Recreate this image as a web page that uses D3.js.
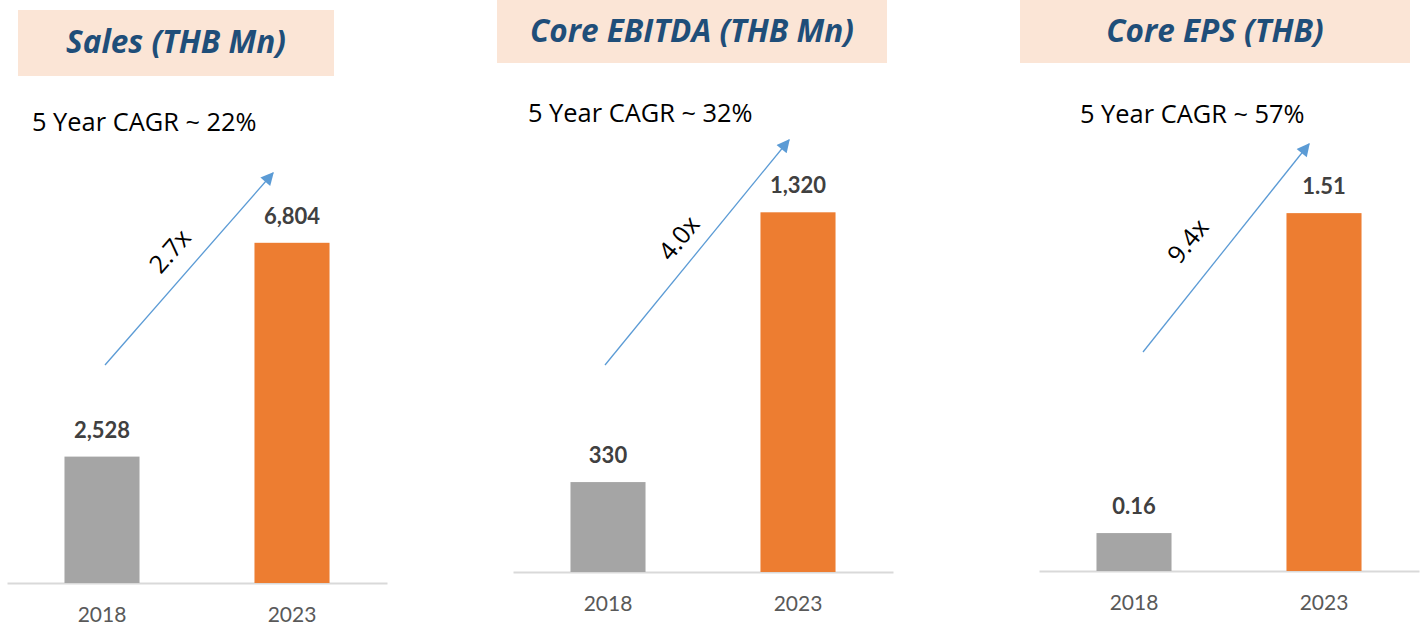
<!DOCTYPE html>
<html>
<head>
<meta charset="utf-8">
<script src="https://cdn.jsdelivr.net/npm/d3@7"></script>
<style>
    html, body { margin: 0; padding: 0; background: #fff; }
    svg { display: block; }
    text { font-family: Lato, "Open Sans", sans-serif; }
</style>
</head>
<body>
<svg id="chart" width="1421" height="625"></svg>
<script>
// data
var years = ['2018', '2023'];
var titles = ['Sales (THB Mn)', 'Core EBITDA (THB Mn)', 'Core EPS (THB)'];
var cagrLabels = ['5 Year CAGR ~ 22%', '5 Year CAGR ~ 32%', '5 Year CAGR ~ 57%'];
var multiples = ['2.7x', '4.0x', '9.4x'];
var salesValues = [2528, 6804];
var ebitdaValues = [330, 1320];
var epsValues = [0.16, 1.51];
var valueFormats = [',', ',', '.2f'];

// layout for the three panels
var panels = [
    { values: salesValues, box: [18, 10, 316, 66], titleY: 53, cagrX: 32, cagrY: 131,
      xRange: [7, 387], baseline: 583, yMax: 8000, yTop: 183,
      arrow: [[105, 365], [273, 173]], multPos: [170, 251], multAngle: -49 },
    { values: ebitdaValues, box: [497, 0, 390, 63], titleY: 42, cagrX: 528, cagrY: 122,
      xRange: [513, 893], baseline: 572, yMax: 1600, yTop: 136,
      arrow: [[605, 365], [789, 140]], multPos: [679, 238], multAngle: -51 },
    { values: epsValues, box: [1020, 0, 390, 63], titleY: 42, cagrX: 1080, cagrY: 123,
      xRange: [1039, 1419], baseline: 571, yMax: 2, yTop: 97,
      arrow: [[1143, 352], [1309, 144]], multPos: [1188, 241], multAngle: -51 }
];

var barColors = ['#A5A5A5', '#ED7D31'];
var svg = d3.select('#chart');

svg.append('defs').append('marker')
    .attr('id', 'arrowHead')
    .attr('viewBox', '0 0 10 10')
    .attr('refX', 9)
    .attr('refY', 5)
    .attr('markerUnits', 'userSpaceOnUse')
    .attr('markerWidth', 15)
    .attr('markerHeight', 13)
    .attr('orient', 'auto')
    .append('path')
    .attr('d', 'M0,0 L10,5 L0,10 Z')
    .attr('fill', '#5B9BD5');

panels.forEach(function (p, k) {
    var g = svg.append('g').attr('class', 'panel panel' + k);

    var x = d3.scaleBand().domain(years).range(p.xRange);
    var y = d3.scaleLinear().domain([0, p.yMax]).range([p.baseline, p.yTop]);
    var barWidth = x.bandwidth() * 0.395;
    var fmt = d3.format(valueFormats[k]);

    // title box
    g.append('rect')
        .attr('x', p.box[0])
        .attr('y', p.box[1])
        .attr('width', p.box[2])
        .attr('height', p.box[3])
        .style('fill', '#FBE5D6');

    g.append('text')
        .attr('x', p.box[0] + p.box[2] / 2)
        .attr('y', p.titleY)
        .attr('text-anchor', 'middle')
        .style('font-family', '"Open Sans", sans-serif')
        .style('font-size', '31.5px')
        .style('font-weight', 'bold')
        .style('font-style', 'italic')
        .style('fill', '#1F4E79')
        .text(titles[k]);

    g.append('text')
        .attr('x', p.cagrX)
        .attr('y', p.cagrY)
        .style('font-family', '"Open Sans", sans-serif')
        .style('font-size', '25.4px')
        .style('fill', '#000')
        .text(cagrLabels[k]);

    // axis
    var axis = g.append('g')
        .attr('transform', 'translate(0,' + p.baseline + ')')
        .call(d3.axisBottom(x).tickSize(0).tickSizeOuter(0));
    axis.select('.domain').style('stroke', '#D9D9D9').style('stroke-width', 2);
    axis.selectAll('.tick text')
        .attr('y', 39)
        .attr('dy', 0)
        .style('font-family', 'Lato, "Open Sans", sans-serif')
        .style('font-size', '21px')
        .style('fill', '#595959');

    // bars
    var bars = g.selectAll('.bChart_Bar')
        .data(p.values)
        .enter();

    bars.append('rect')
        .attr('class', 'bChart_Bar')
        .attr('x', function (d, i) {
            return x(years[i]) + (x.bandwidth() - barWidth) / 2;
        })
        .attr('y', function (d) { return y(d); })
        .attr('width', barWidth)
        .attr('height', function (d) { return p.baseline - y(d); })
        .style('fill', function (d, i) { return barColors[i]; });

    bars.append('text')
        .attr('x', function (d, i) { return x(years[i]) + x.bandwidth() / 2; })
        .attr('y', function (d) { return y(d) - 19; })
        .attr('text-anchor', 'middle')
        .style('font-size', '22px')
        .style('font-weight', 'bold')
        .style('fill', '#404040')
        .text(function (d) { return fmt(d); });

    // growth arrow
    g.append('line')
        .attr('x1', p.arrow[0][0])
        .attr('y1', p.arrow[0][1])
        .attr('x2', p.arrow[1][0])
        .attr('y2', p.arrow[1][1])
        .style('stroke', '#5B9BD5')
        .style('stroke-width', 1.3)
        .attr('marker-end', 'url(#arrowHead)');

    g.append('text')
        .attr('transform', 'translate(' + p.multPos[0] + ',' + p.multPos[1] + ') rotate(' + p.multAngle + ')')
        .attr('text-anchor', 'middle')
        .attr('dy', '0.35em')
        .style('font-family', '"Open Sans", sans-serif')
        .style('font-size', '25px')
        .style('fill', '#000')
        .text(multiples[k]);
});
</script>
</body>
</html>
